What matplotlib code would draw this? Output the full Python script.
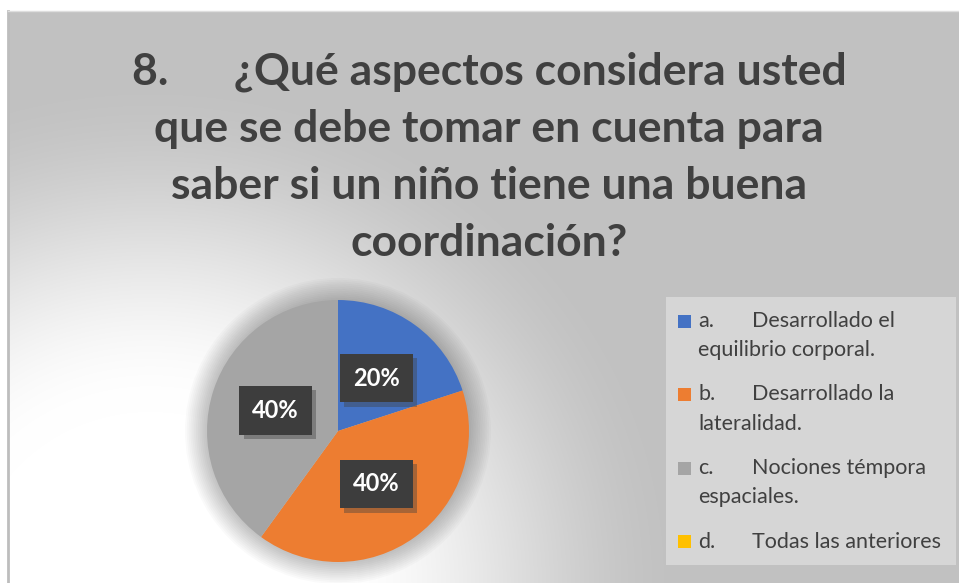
import numpy as np
import matplotlib.pyplot as plt
from matplotlib.patches import Circle, Rectangle
import matplotlib.patheffects as pe

# data
letters = ["a.", "b.", "c.", "d."]
first_lines = ["Desarrollado el", "Desarrollado la", "Nociones témpora", "Todas las anteriores"]
second_lines = ["equilibrio corporal.", "lateralidad.", "espaciales.", ""]
values = [20, 40, 40, 0]
colors = ["#4472C4", "#ED7D31", "#A5A5A5", "#FFC000"]
title = ("8.      ¿Qué aspectos considera usted\n"
         "que se debe tomar en cuenta para\n"
         "saber si un niño tiene una buena\n"
         "coordinación?")

FW, FH = 959, 583
TXT = "#404040"
plt.rcParams["font.family"] = ["Lato", "DejaVu Sans"]

fig = plt.figure(figsize=(FW / 100, FH / 100), dpi=100)
fig.patch.set_facecolor("white")

# chart area with radial gradient (white in lower left, grey elsewhere)
W, H = 951, 572
bg = fig.add_axes([8 / FW, 0, W / FW, H / FH])
yy, xx = np.mgrid[0:H, 0:W]
d = np.hypot(xx - 142, (H - yy) * 1.05)
t = np.clip((d - 180) / 360, 0, 1)
t = t * t * (3 - 2 * t)
g = 1 - t * (1 - 0.757)
bg.imshow(np.dstack([g, g, g]), extent=[0, W, 0, H], origin="upper", aspect="auto")
bg.set_xticks([])
bg.set_yticks([])
for s in ["right", "bottom"]:
    bg.spines[s].set_visible(False)
bg.spines["left"].set_color("#bdbdbd")
bg.spines["left"].set_linewidth(2)
bg.spines["top"].set_color("#dedede")
bg.spines["top"].set_linewidth(1)

# title
fig.text(489 / FW, 1 - 157 / FH, title, ha="center", va="center",
         fontsize=32, fontweight="bold", color=TXT, linespacing=1.52)

# pie
cx, cy, r = 338, 431, 131
lim = 1.3
pax = fig.add_axes([(cx - r * lim) / FW, (FH - cy - r * lim) / FH,
                    2 * r * lim / FW, 2 * r * lim / FH])
# soft shadow around the pie
for k in range(12):
    pax.add_patch(Circle((0, 0), 1.0 + 0.014 * (k + 1), color="black",
                         alpha=0.018, lw=0, zorder=0))


def fmt(p):
    return f"{p:.0f}%" if p > 0.5 else ""


wedges, _, autotexts = pax.pie(values, colors=colors, startangle=90, counterclock=False,
                               autopct=fmt, pctdistance=0.5,
                               textprops=dict(color="white", fontsize=17, fontweight="bold"))
for w in wedges:
    w.set_zorder(2)
for at in autotexts:
    if at.get_text():
        at.set_bbox(dict(boxstyle="square,pad=0.55", facecolor="#3d3d3d", edgecolor="none"))
        at.get_bbox_patch().set_path_effects(
            [pe.SimplePatchShadow(offset=(3, -3), alpha=0.4, shadow_rgbFace="#404040"), pe.Normal()])
        at.set_zorder(3)
pax.set_xlim(-lim, lim)
pax.set_ylim(-lim, lim)
pax.axis("off")

# legend box
lx0, ly0, lw_, lh = 666, 297, 290, 268
lax = fig.add_axes([lx0 / FW, 1 - (ly0 + lh) / FH, lw_ / FW, lh / FH])
lax.set_facecolor("#d6d6d6")
lax.set_xlim(0, lw_)
lax.set_ylim(lh, 0)
lax.set_xticks([])
lax.set_yticks([])
for s in lax.spines.values():
    s.set_visible(False)

step = 73.5
fs = 15.5
for i, (let, l1, l2, c) in enumerate(zip(letters, first_lines, second_lines, colors)):
    y = 24 + i * step
    lax.add_patch(Rectangle((12, y - 6.5), 13, 13, facecolor=c, edgecolor="none"))
    lax.text(32, y, let, va="center", ha="left", fontsize=fs, color=TXT)
    lax.text(86, y, l1, va="center", ha="left", fontsize=fs, color=TXT)
    if l2:
        lax.text(32, y + 29, l2, va="center", ha="left", fontsize=fs, color=TXT)

fig.savefig("out.png", dpi=100)
